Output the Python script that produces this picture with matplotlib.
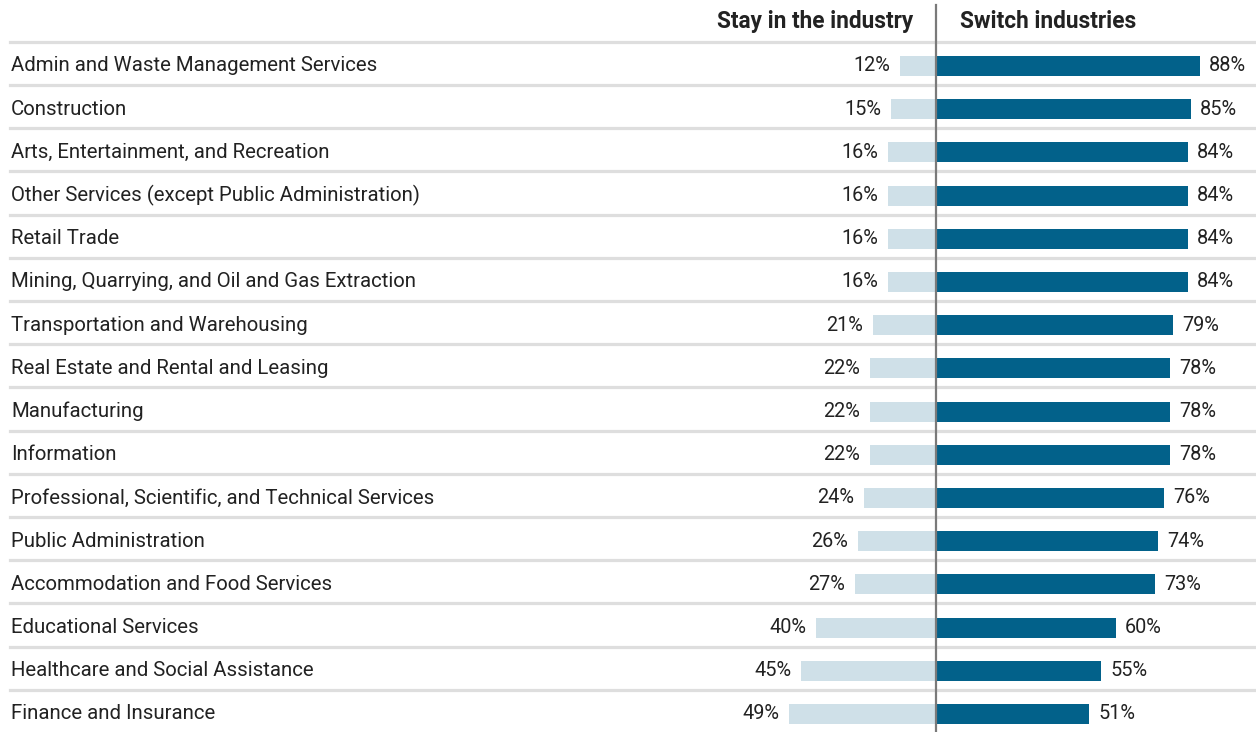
import matplotlib.pyplot as plt

industries = [
    "Admin and Waste Management Services",
    "Construction",
    "Arts, Entertainment, and Recreation",
    "Other Services (except Public Administration)",
    "Retail Trade",
    "Mining, Quarrying, and Oil and Gas Extraction",
    "Transportation and Warehousing",
    "Real Estate and Rental and Leasing",
    "Manufacturing",
    "Information",
    "Professional, Scientific, and Technical Services",
    "Public Administration",
    "Accommodation and Food Services",
    "Educational Services",
    "Healthcare and Social Assistance",
    "Finance and Insurance",
]
stay = [12, 15, 16, 16, 16, 16, 21, 22, 22, 22, 24, 26, 27, 40, 45, 49]
switch = [88, 85, 84, 84, 84, 84, 79, 78, 78, 78, 76, 74, 73, 60, 55, 51]

plt.rcParams['font.family'] = ['Roboto', 'DejaVu Sans']

W, H = 1256, 732
fig = plt.figure(figsize=(W / 100, H / 100), dpi=100)
ax = fig.add_axes([0, 0, 1, 1])

cx = 936      # centre line in pixels
ppu = 3.0     # pixels per percent
row0 = 66     # first row centre in pixels
rowh = 43.2   # row spacing in pixels

ax.set_xlim(-cx / ppu, (W - cx) / ppu)
ax.set_ylim((H - row0) / rowh, -row0 / rowh)
ax.axis('off')

light = '#cfe0e8'
dark = '#02618a'
txt = '#222222'
xlab = ax.get_xlim()[0] + 11 / ppu

n = len(industries)
for i in range(n):
    ax.axhline(i - 0.56, xmin=10 / W, xmax=1, color='#dedede', lw=2.3, zorder=1)

ax.barh(range(n), [-s for s in stay], height=0.46, color=light, zorder=2)
ax.barh(range(n), switch, height=0.46, color=dark, zorder=2)

for i, (name, s, w) in enumerate(zip(industries, stay, switch)):
    ax.text(xlab, i, name, ha='left', va='center', fontsize=14.7, color=txt)
    ax.text(-s - 3.3, i, f"{s}%", ha='right', va='center', fontsize=14.3, color=txt)
    ax.text(w + 3.0, i, f"{w}%", ha='left', va='center', fontsize=14.3, color=txt)

ax.plot([0, 0], [-1.42, (H - row0) / rowh], color='#7a7a7a', lw=1.6, zorder=3,
        clip_on=False)

ax.text(-7.5, -1.04, "Stay in the industry", ha='right', va='center',
        fontsize=16.3, fontweight='bold', color=txt)
ax.text(8.0, -1.04, "Switch industries", ha='left', va='center',
        fontsize=16.3, fontweight='bold', color=txt)

fig.savefig("out.png", dpi=100)
